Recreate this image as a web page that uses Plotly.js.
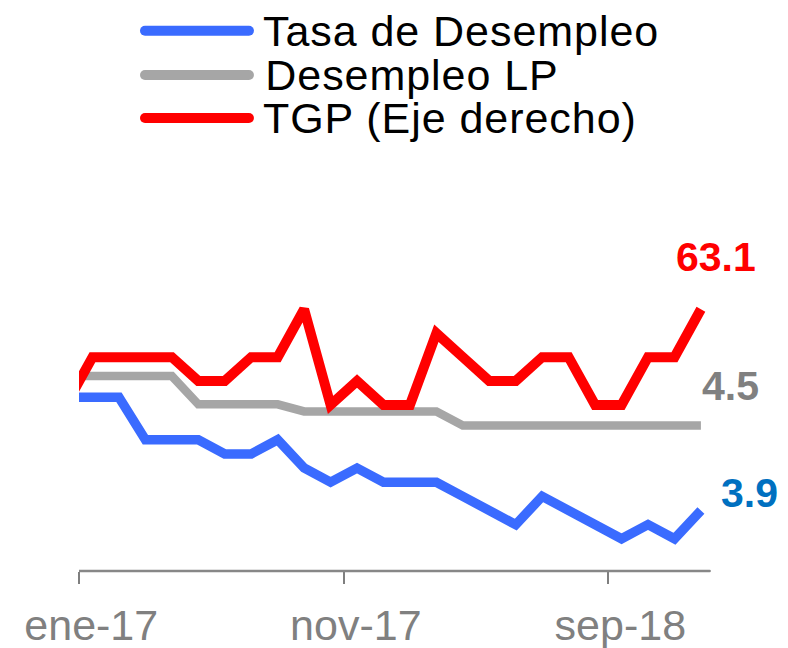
<!DOCTYPE html>
<html>
<head>
<meta charset="utf-8">
<script src="https://cdn.plot.ly/plotly-3.0.1.min.js"></script>
<style>
html,body{margin:0;padding:0;background:#fff}
#chart{width:788px;height:648px}
#chart .annotation[data-index="0"] text,
#chart .annotation[data-index="1"] text,
#chart .annotation[data-index="2"] text{letter-spacing:0.95px}
#chart .shapelayer path{stroke-linecap:round}
</style>
</head>
<body>
<div id="chart"></div>
<script>
// Months (dic-16 is only partly visible at the left edge)
const months = ['dic-16','ene-17','feb-17','mar-17','abr-17','may-17','jun-17','jul-17','ago-17','sep-17','oct-17','nov-17','dic-17',
  'ene-18','feb-18','mar-18','abr-18','may-18','jun-18','jul-18','ago-18','sep-18','oct-18','nov-18','dic-18'];
const tasaDesempleo = [4.7, 4.7,4.7,4.4,4.4,4.4,4.3,4.3,4.4,4.2,4.1,4.2,4.1, 4.1,4.1,4.0,3.9,3.8,4.0,3.9,3.8,3.7,3.8,3.7,3.9];
const desempleoLP   = [4.85, 4.85,4.85,4.85,4.85,4.65,4.65,4.65,4.65,4.6,4.6,4.6,4.6, 4.6,4.6,4.5,4.5,4.5,4.5,4.5,4.5,4.5,4.5,4.5,4.5];
const tgp           = [62.7, 62.9,62.9,62.9,62.9,62.8,62.8,62.9,62.9,63.1,62.7,62.8,62.7, 62.7,63.0,62.9,62.8,62.8,62.9,62.9,62.7,62.7,62.9,62.9,63.1];
const tickLabels = ['ene-17','nov-17','sep-18'];
const seriesNames = ['Tasa de Desempleo','Desempleo LP','TGP (Eje derecho)'];

const xs = months.map((m, i) => i - 1);          // ene-17 -> 0
const tickPos = tickLabels.map(l => months.indexOf(l) - 1 - 0.5); // ticks at category boundaries

const cBlue = '#3A6BFF', cGray = '#A6A6A6', cRed = '#FF0000';
const FONT = 'Liberation Sans, Arial, sans-serif';

const traces = [
  {x: xs, y: desempleoLP, type: 'scatter', mode: 'lines', name: seriesNames[1], line: {color: cGray, width: 8.5}, yaxis: 'y'},
  {x: xs, y: tasaDesempleo, type: 'scatter', mode: 'lines', name: seriesNames[0], line: {color: cBlue, width: 9.5}, yaxis: 'y'},
  {x: xs, y: tgp, type: 'scatter', mode: 'lines', name: seriesNames[2], line: {color: cRed, width: 10}, yaxis: 'y2'}
];

const last = xs.length - 1;
const legendColors = [cBlue, cGray, cRed];
const legendY = [1.3146, 1.2068, 1.1022];
const shapes = [
  {type: 'line', xref: 'x', yref: 'paper', x0: -0.5, x1: 23.33, y0: 0, y1: 0, line: {color: '#878787', width: 2.5}}
];
const annotations = [];
seriesNames.forEach((n, i) => {
  shapes.push({type: 'line', xref: 'paper', yref: 'paper', x0: 0.1036, x1: 0.2668, y0: legendY[i], y1: legendY[i],
    line: {color: legendColors[i], width: 10}});
  annotations.push({xref: 'paper', yref: 'paper', x: 0.298, y: legendY[i], xanchor: 'left', yanchor: 'middle',
    text: n, showarrow: false, font: {family: FONT, size: 43, color: '#000'}});
});
annotations.push({xref: 'x', yref: 'y2', x: xs[last], y: tgp[last], text: '<b>' + tgp[last].toFixed(1) + '</b>', showarrow: false,
  xanchor: 'center', yanchor: 'middle', xshift: 15, yshift: 52, font: {family: FONT, size: 41, color: '#FF0000'}});
annotations.push({xref: 'x', yref: 'y', x: xs[last], y: desempleoLP[last], text: '<b>' + desempleoLP[last].toFixed(1) + '</b>', showarrow: false,
  xanchor: 'center', yanchor: 'middle', xshift: 30, yshift: 40, font: {family: FONT, size: 41, color: '#808080'}});
annotations.push({xref: 'x', yref: 'y', x: xs[last], y: tasaDesempleo[last], text: '<b>' + tasaDesempleo[last].toFixed(1) + '</b>', showarrow: false,
  xanchor: 'center', yanchor: 'middle', xshift: 49, yshift: 17, font: {family: FONT, size: 41, color: '#0070C0'}});

const layout = {
  width: 788, height: 648,
  margin: {l: 79, r: 72, t: 160, b: 77, pad: 0},
  paper_bgcolor: '#fff', plot_bgcolor: '#fff',
  showlegend: false,
  xaxis: {
    range: [-0.51, 23.57], tickmode: 'array', tickvals: tickPos, ticktext: tickLabels,
    ticks: 'outside', ticklen: 12, tickwidth: 2, tickcolor: '#7f7f7f',
    showline: false, showgrid: false, zeroline: false,
    ticklabelshift: 12, ticklabelstandoff: 4,
    tickfont: {family: FONT, size: 43, color: '#808080'}
  },
  yaxis: {range: [3.4724, 6.377], visible: false, showgrid: false, zeroline: false},
  yaxis2: {range: [62.006, 63.724], overlaying: 'y', side: 'right', visible: false, showgrid: false, zeroline: false},
  shapes: shapes,
  annotations: annotations
};

Plotly.newPlot('chart', traces, layout, {displayModeBar: false, staticPlot: true});
</script>
</body>
</html>
